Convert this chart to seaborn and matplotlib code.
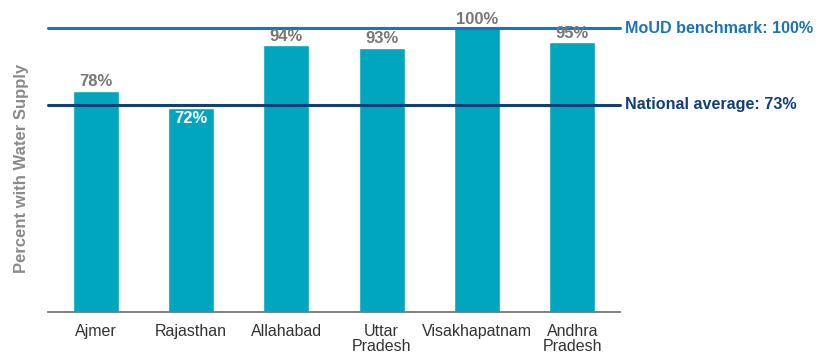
import matplotlib
matplotlib.use("Agg")
import matplotlib.pyplot as plt
import seaborn as sns
import pandas as pd

cities = ["Ajmer", "Rajasthan", "Allahabad", "Uttar\nPradesh", "Visakhapatnam", "Andhra\nPradesh"]
water_supply = [78, 72, 94, 93, 100, 95]
benchmark = 100
national_avg = 73

sns.set_theme(style="white")
plt.rcParams["font.family"] = ["Liberation Sans", "DejaVu Sans"]

df = pd.DataFrame({"city": cities, "pct": water_supply})

fig = plt.figure(figsize=(8.21, 3.62), dpi=100)
ax = fig.add_axes([48 / 821, (362 - 311.5) / 362, (620 - 48) / 821, 311.5 / 362])

sns.barplot(data=df, x="city", y="pct", color="#00A6BE", saturation=1, width=0.48, ax=ax)

ax.set_xlim(-0.5, len(cities) - 0.5)
ax.set_ylim(0, 110)

ax.axhline(benchmark, color="#1C74BC", lw=2.2, zorder=1, clip_on=False)
ax.axhline(national_avg, color="#123F7A", lw=2.2, zorder=3, clip_on=False)
ax.text(1.008, benchmark, f"MoUD benchmark: {benchmark}%", transform=ax.get_yaxis_transform(),
        color="#1C74BC", fontsize=11.6, fontweight="bold", va="center", ha="left")
ax.text(1.008, national_avg, f"National average: {national_avg}%", transform=ax.get_yaxis_transform(),
        color="#123F7A", fontsize=11.6, fontweight="bold", va="center", ha="left")

for i, v in enumerate(water_supply):
    if v < national_avg:
        ax.text(i, v - 1.3, f"{v}%", ha="center", va="top", color="white",
                fontsize=12, fontweight="bold")
    else:
        ax.text(i, v + 0.6, f"{v}%", ha="center", va="bottom", color="#777777",
                fontsize=12, fontweight="bold")

for s in ["top", "right", "left"]:
    ax.spines[s].set_visible(False)
ax.spines["bottom"].set_color("#777777")
ax.spines["bottom"].set_linewidth(1.3)

ax.set_yticks([])
ax.set_xlabel("")
ax.set_ylabel("Percent with Water Supply", color="#8A8A8A", fontsize=12, fontweight="bold")
ax.yaxis.set_label_coords(-0.034, 0.46)
ax.tick_params(axis="x", length=0, pad=9, labelsize=11.5, labelcolor="#333333")
for lab in ax.get_xticklabels():
    lab.set_linespacing(1.0)

fig.savefig("out.png", dpi=100)
